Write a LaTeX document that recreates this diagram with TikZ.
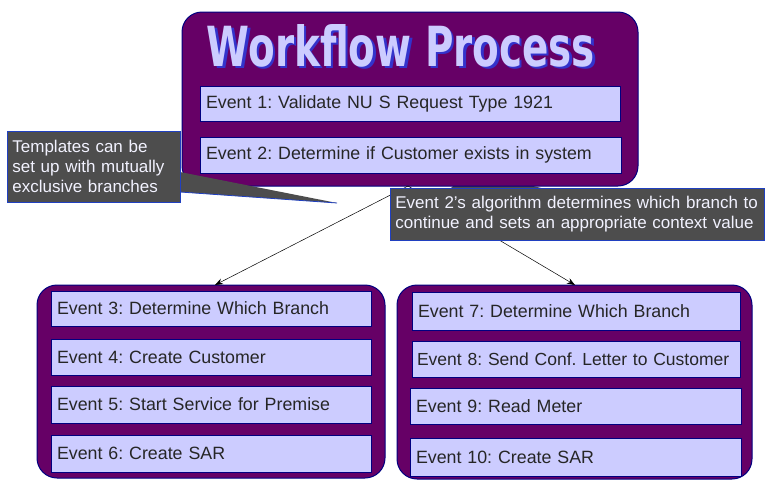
\documentclass[tikz,border=0pt]{standalone}
\usepackage{fontspec}
\setmainfont{Liberation Sans}
\newfontfamily\titlefont{DejaVu Sans}
\usetikzlibrary{arrows.meta}
\definecolor{procpurple}{HTML}{660066}
\definecolor{evlav}{HTML}{CCCCFF}
\definecolor{evnavy}{HTML}{000080}
\definecolor{notegrey}{HTML}{4D4D4D}
\definecolor{noteblue}{HTML}{2040C0}
\definecolor{notetext}{HTML}{F2F2FF}
\definecolor{titleshade}{HTML}{3333CC}
\frenchspacing
\hyphenpenalty=10000
\newcommand{\titletext}{\resizebox{388pt}{42pt}{\titlefont\bfseries Workflow Process}}
\tikzset{
  procbox/.style={draw=evnavy, fill=procpurple, line width=1pt, rounded corners=20pt},
  evbox/.style={draw=evnavy, fill=evlav, line width=0.8pt, inner xsep=6pt, inner ysep=0pt,
    align=left, font=\fontsize{17.8}{20}\selectfont, text=black!85},
  notebox/.style={draw=noteblue, fill=notegrey, line width=0.8pt, inner xsep=5pt, inner ysep=0pt,
    align=left, font=\fontsize{17}{20}\selectfont, text=notetext, anchor=north west},
  flow/.style={-{Stealth[length=8pt,width=6pt]}, line width=0.5pt}
}
\begin{document}
\begin{tikzpicture}[x=1pt, y=-1pt]
	\useasboundingbox (0,0) rectangle (765,485);
	% branch containers:
	\node[procbox, minimum width=348pt, minimum height=193pt] (lbranch) at (211,381.5){};
	\node[procbox, minimum width=355pt, minimum height=194pt] (rbranch) at (574.5,382){};
	\node[evbox, minimum width=320pt, minimum height=35pt, text width=308pt] (ev3) at (211,308.5){Event 3: Determine Which Branch};
	\node[evbox, minimum width=320pt, minimum height=36pt, text width=308pt] (ev4) at (211,357){Event 4: Create Customer};
	\node[evbox, minimum width=320pt, minimum height=37pt, text width=308pt] (ev5) at (211,404.5){Event 5: Start Service for Premise};
	\node[evbox, minimum width=320pt, minimum height=37pt, text width=308pt] (ev6) at (211,453.5){Event 6: Create SAR};
	\node[evbox, minimum width=328pt, minimum height=38pt, text width=316pt] (ev7) at (576,311){Event 7: Determine Which Branch};
	\node[evbox, minimum width=328pt, minimum height=36pt, inner xsep=5pt, text width=318pt, font=\fontsize{17.5}{20}\selectfont] (ev8) at (576,359){Event 8: Send Conf. Letter to Customer};
	\node[evbox, minimum width=331pt, minimum height=36pt, text width=319pt] (ev9) at (575.5,406){Event 9: Read Meter};
	\node[evbox, minimum width=331pt, minimum height=38pt, text width=319pt] (ev10) at (575.5,457){Event 10: Create SAR};
	% pointer of the right note, mostly behind the process box
	\fill[notegrey] (450,189) -- (470,170) -- (545,189) -- cycle;
	% process box:
	\node[procbox, minimum width=456pt, minimum height=174pt] (proc) at (410,99){};
	\node[inner sep=0pt, text=evlav] (title) at (401,47){\makebox[0pt][l]{\hspace{2.5pt}\raisebox{-2.5pt}{\color{titleshade}\titletext}}\titletext};
	\node[evbox, minimum width=420pt, minimum height=35pt, text width=408pt] (ev1) at (410,103.5){Event 1: Validate NU S Request Type 1921};
	\node[evbox, minimum width=421pt, minimum height=36pt, text width=409pt] (ev2) at (410.5,155){Event 2: Determine if Customer exists in system};
	% branch arrows:
	\coordinate (split) at (408,186);
	\coordinate (lin) at (215,285);
	\coordinate (rin) at (575,285);
	\draw[flow] (split) -- (lin);
	\draw[flow] (split) -- (rin);
	% notes:
	\fill[notegrey] (180,172) -- (337,203) -- (180,192) -- cycle;
	\draw[noteblue, line width=0.8pt] (180,192) -- (337,203);
	\node[notebox, minimum width=173pt, minimum height=71pt, text width=163pt] (tnote) at (7,131){Templates can be\\set up with mutually\\exclusive branches};
	\node[notebox, minimum width=374pt, minimum height=52pt, text width=364pt] (anote) at (390,188){Event 2's algorithm determines which branch to\\continue and sets an appropriate context value};
\end{tikzpicture}
\end{document}
